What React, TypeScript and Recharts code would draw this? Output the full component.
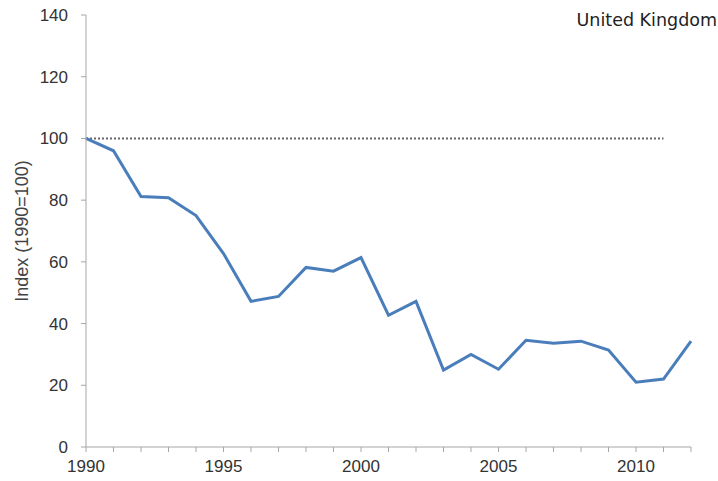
import { LineChart, Line, XAxis, YAxis, Label } from "recharts"

const years = [1990, 1991, 1992, 1993, 1994, 1995, 1996, 1997, 1998, 1999, 2000, 2001, 2002, 2003, 2004, 2005, 2006, 2007, 2008, 2009, 2010, 2011, 2012]
const indexValues = [100, 96, 81.2, 80.8, 75, 62.7, 47.2, 48.8, 58.2, 57, 61.4, 42.7, 47.2, 24.9, 30, 25.2, 34.6, 33.6, 34.3, 31.4, 21, 22, 34.3]
const baseValues = [100, 100, 100, 100, 100, 100, 100, 100, 100, 100, 100, 100, 100, 100, 100, 100, 100, 100, 100, 100, 100, 100, null]
const yTicks = [0, 20, 40, 60, 80, 100, 120, 140]
const labeledYears = [1990, 1995, 2000, 2005, 2010]

const data = years.map((year, i) => ({
  year,
  index: indexValues[i],
  base: baseValues[i],
}))

const font = "'Liberation Sans', Arial, sans-serif"

export default function App() {
  return (
    <div style={{ position: "absolute", left: 0, top: 0, width: 718, height: 481, background: "#fff" }}>
      <div
        style={{
          position: "absolute",
          right: 1,
          top: 10,
          fontFamily: "'DejaVu Sans', Verdana, sans-serif",
          fontSize: 17.5,
          color: "#222",
        }}
      >
        United Kingdom
      </div>
      <LineChart
        width={718}
        height={481}
        data={data}
        margin={{ top: 15, right: 27, bottom: 0, left: 26 }}
      >
        <XAxis
          dataKey="year"
          type="number"
          domain={[1990, 2012]}
          ticks={years}
          interval={0}
          tickFormatter={(v: number) => (labeledYears.includes(v) ? String(v) : "")}
          stroke="#a6a6a6"
          tickSize={5}
          tickMargin={8}
          height={34}
          tick={{ fill: "#333", fontSize: 17, fontFamily: font }}
        />
        <YAxis
          domain={[0, 140]}
          ticks={yTicks}
          interval={0}
          width={60}
          stroke="#a6a6a6"
          tickSize={5}
          tickMargin={13}
          tick={{ fill: "#333", fontSize: 17, fontFamily: font }}
        >
          <Label
            value="Index (1990=100)"
            angle={-90}
            position="insideLeft"
            offset={-4}
            style={{ textAnchor: "middle", fill: "#444", fontSize: 18, fontFamily: font }}
          />
        </YAxis>
        <Line
          dataKey="base"
          stroke="#666"
          strokeWidth={2}
          strokeDasharray="2 2"
          dot={false}
          isAnimationActive={false}
        />
        <Line
          dataKey="index"
          stroke="#4a7ebb"
          strokeWidth={3}
          dot={false}
          isAnimationActive={false}
        />
      </LineChart>
    </div>
  )
}
